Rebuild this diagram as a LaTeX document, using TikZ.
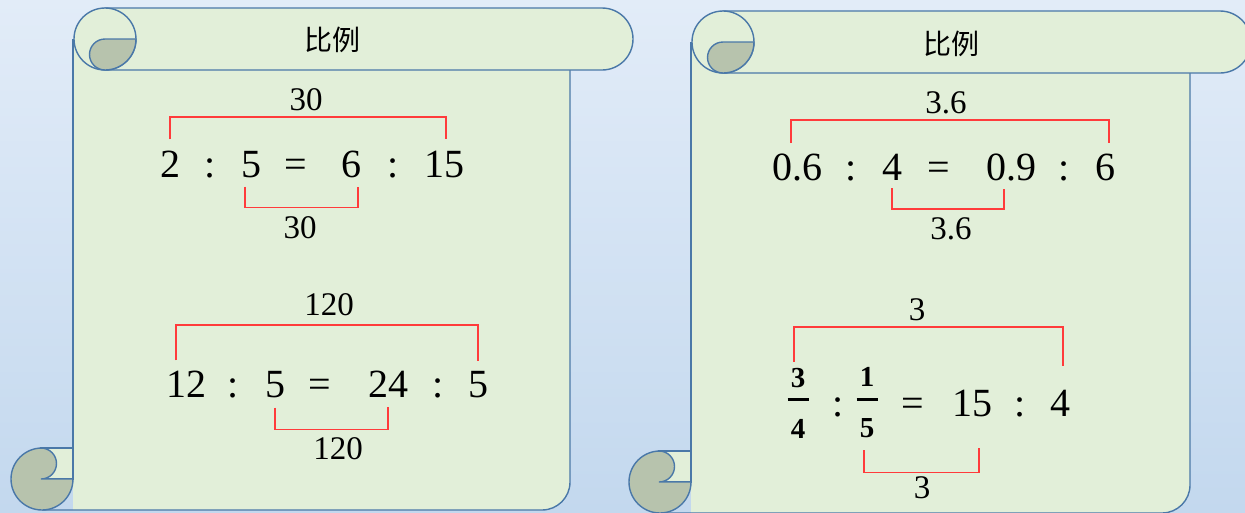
\documentclass[tikz,border=0pt]{standalone}
\usepackage{fontspec}
\setmainfont{Liberation Serif}
\newfontfamily\cjk{Noto Sans CJK SC}
\definecolor{scrollgreen}{HTML}{E2EFD9}
\definecolor{scrollshade}{HTML}{B7C3AD}
\definecolor{scrollblue}{HTML}{4A78A8}
\definecolor{bracketred}{HTML}{FF3B3B}
\definecolor{skytop}{HTML}{E2ECF8}
\definecolor{skybottom}{HTML}{C3D8EE}

\begin{document}
\begin{tikzpicture}[x=1pt, y=1pt]
\tikzstyle{scrollEdge} = [draw=scrollblue, line width=1.4pt]
\tikzstyle{scrollFill} = [fill=scrollgreen, draw=scrollblue, line width=1.4pt]
\tikzstyle{scrollCurl} = [fill=scrollshade, draw=scrollblue, line width=1.4pt]
\tikzstyle{titleText} = [font=\cjk\fontsize{28}{34}\selectfont, inner sep=0pt]
\tikzstyle{ratioTerm} = [font=\fontsize{40}{48}\selectfont, inner sep=0pt, anchor=base]
\tikzstyle{ratioFrac} = [font=\bfseries\fontsize{29}{14}\selectfont, align=center, inner sep=0pt, anchor=center]
\tikzstyle{ratioLabel} = [font=\fontsize{33}{40}\selectfont, inner sep=0pt, anchor=base]
\tikzstyle{bracketLine} = [draw=bracketred, line width=1.7pt]

\useasboundingbox (0,0) rectangle (1245,-512);
\clip (0,0) rectangle (1245,-512);
\shade[top color=skytop, bottom color=skybottom] (0,0) rectangle (1245,-512);

\begin{scope}
\fill[scrollgreen] (73,-39) -- (73,-510) -- (542,-510) arc[start angle=-90, end angle=0, radius=28] -- (570,-39) -- cycle;
\draw[scrollEdge] (73,-39) -- (73,-479);
\draw[scrollEdge] (42,-510) -- (542,-510) arc[start angle=-90, end angle=0, radius=28] -- (570,-70);
\filldraw[scrollFill] (105,-8) -- (602,-8) arc[start angle=90, end angle=-90, radius=31] -- (105,-70) -- cycle;
\filldraw[scrollFill] (105,-39) circle[radius=31];
\filldraw[scrollCurl] (136,-39) -- (105,-39) arc[start angle=90, end angle=270, radius=15.5] arc[start angle=270, end angle=360, radius=31] -- cycle;
\filldraw[scrollFill] (41,-448) rectangle (73,-479);
\filldraw[scrollCurl] (41,-448) arc[start angle=90, end angle=-90, radius=15.5] -- (73,-479) arc[start angle=0, end angle=-270, radius=31] -- cycle;
\end{scope}

\begin{scope}[shift={(618,-3)}]
\fill[scrollgreen] (73,-39) -- (73,-510) -- (544,-510) arc[start angle=-90, end angle=0, radius=28] -- (572,-39) -- cycle;
\draw[scrollEdge] (73,-39) -- (73,-479);
\draw[scrollEdge] (42,-510) -- (544,-510) arc[start angle=-90, end angle=0, radius=28] -- (572,-70);
\filldraw[scrollFill] (105,-8) -- (602,-8) arc[start angle=90, end angle=-90, radius=31] -- (105,-70) -- cycle;
\filldraw[scrollFill] (105,-39) circle[radius=31];
\filldraw[scrollCurl] (136,-39) -- (105,-39) arc[start angle=90, end angle=270, radius=15.5] arc[start angle=270, end angle=360, radius=31] -- cycle;
\filldraw[scrollFill] (41,-448) rectangle (73,-479);
\filldraw[scrollCurl] (41,-448) arc[start angle=90, end angle=-90, radius=15.5] -- (73,-479) arc[start angle=0, end angle=-270, radius=31] -- cycle;
\end{scope}

\node (leftTitle) [titleText] at (332,-40) {比例};
\node (rightTitle) [titleText] at (951,-44) {比例};

\node (p1a) [ratioTerm] at (170,-177) {2};
\node (p1b) [ratioTerm] at (210,-177) {:};
\node (p1c) [ratioTerm] at (251,-177) {5};
\node (p1d) [ratioTerm] at (296,-177) {=};
\node (p1e) [ratioTerm] at (351,-177) {6};
\node (p1f) [ratioTerm] at (393,-177) {:};
\node (p1g) [ratioTerm] at (444,-177) {15};
\node (p1top) [ratioLabel] at (306,-110) {30};
\node (p1bot) [ratioLabel] at (300,-238) {30};
\draw[bracketLine] ([yshift=11pt]p1a.north) -- ++(0,22) -| ([xshift=2pt,yshift=11pt]p1g.north);
\draw[bracketLine] ([xshift=-6pt,yshift=-9pt]p1c.south) -- ++(0,-21) -| ([xshift=7pt,yshift=-9pt]p1e.south);

\node (p2a) [ratioTerm] at (186,-397) {12};
\node (p2b) [ratioTerm] at (233,-397) {:};
\node (p2c) [ratioTerm] at (275,-397) {5};
\node (p2d) [ratioTerm] at (320,-397) {=};
\node (p2e) [ratioTerm] at (388,-397) {24};
\node (p2f) [ratioTerm] at (438,-397) {:};
\node (p2g) [ratioTerm] at (478,-397) {5};
\node (p2top) [ratioLabel] at (329,-315) {120};
\node (p2bot) [ratioLabel] at (338,-459) {120};
\draw[bracketLine] ([xshift=-10pt,yshift=10pt]p2a.north) -- ++(0,35) -| ([yshift=10pt]p2g.north);
\draw[bracketLine] ([yshift=-10pt]p2c.south) -- ++(0,-22) -| ([yshift=-10pt]p2e.south);

\node (p3a) [ratioTerm] at (797,-180) {0.6};
\node (p3b) [ratioTerm] at (851,-180) {:};
\node (p3c) [ratioTerm] at (892,-180) {4};
\node (p3d) [ratioTerm] at (939,-180) {=};
\node (p3e) [ratioTerm] at (1011,-180) {0.9};
\node (p3f) [ratioTerm] at (1064,-180) {:};
\node (p3g) [ratioTerm] at (1105,-180) {6};
\node (p3top) [ratioLabel] at (946,-113) {3.6};
\node (p3bot) [ratioLabel] at (951,-239) {3.6};
\draw[bracketLine] ([xshift=-6pt,yshift=10pt]p3a.north) -- ++(0,23) -| ([xshift=4pt,yshift=10pt]p3g.north);
\draw[bracketLine] ([yshift=-8pt]p3c.south) -- ++(0,-21) -| ([xshift=-7pt,yshift=-8pt]p3e.south);

\node (p4a) [ratioFrac] at (798,-403) {3\\\rule{21pt}{2.8pt}\\[17pt]4};
\node (p4b) [ratioTerm] at (838,-416) {:};
\node (p4c) [ratioFrac] at (867,-403) {1\\\rule{21pt}{2.8pt}\\[17pt]5};
\node (p4d) [ratioTerm] at (913,-416) {=};
\node (p4e) [ratioTerm] at (972,-416) {15};
\node (p4f) [ratioTerm] at (1020,-416) {:};
\node (p4g) [ratioTerm] at (1060,-416) {4};
\node (p4top) [ratioLabel] at (917,-320) {3};
\node (p4bot) [ratioLabel] at (922,-498) {3};
\draw[bracketLine] ([xshift=-4pt,yshift=6pt]p4a.north) -- ++(0,35) -| ([xshift=3pt,yshift=23pt]p4g.north);
\draw[bracketLine] ([xshift=-3pt,yshift=-12pt]p4c.south) -- ++(0,-22) -| ([xshift=7pt,yshift=-31pt]p4e.south);

\end{tikzpicture}
\end{document}
